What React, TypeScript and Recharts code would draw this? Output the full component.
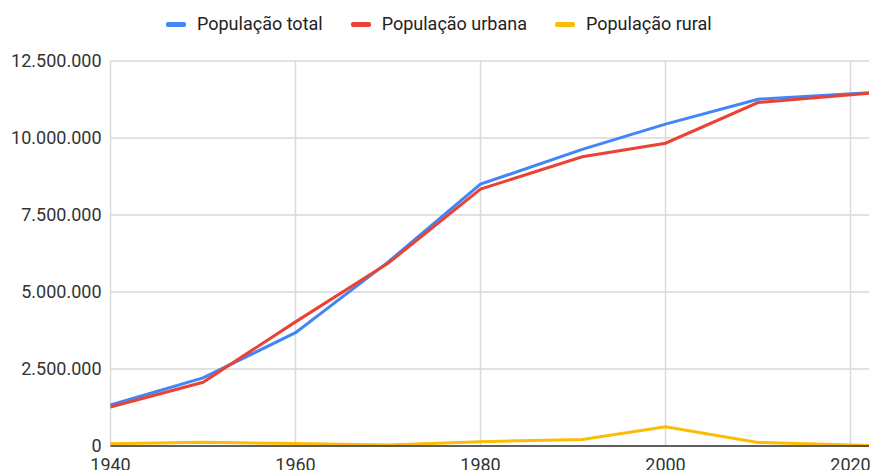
import React from "react";
import { LineChart, Line, XAxis, YAxis, CartesianGrid } from "recharts";

const years = [1940, 1950, 1960, 1970, 1980, 1991, 2000, 2010, 2022];
const total = [1330000, 2210000, 3680000, 5970000, 8500000, 9630000, 10450000, 11260000, 11470000];
const urbana = [1265000, 2070000, 4030000, 5930000, 8340000, 9390000, 9830000, 11150000, 11450000];
const rural = [70000, 125000, 80000, 30000, 140000, 215000, 625000, 115000, 15000];
const xTicks = [1940, 1960, 1980, 2000, 2020];
const yTicks = [0, 2500000, 5000000, 7500000, 10000000, 12500000];
const seriesNames = ["População total", "População urbana", "População rural"];
const seriesKeys = ["total", "urbana", "rural"];
const colors = ["#4285F4", "#EA4335", "#FBBC04"];

const data = years.map((y, i) => ({ year: y, total: total[i], urbana: urbana[i], rural: rural[i] }));

const fmt = (v: number) => v.toLocaleString("de-DE");
const FONT = "Roboto, 'Liberation Sans', Arial, sans-serif";

export default function App() {
  return (
    <div style={{ position: "absolute", left: 0, top: 0, width: 872, height: 470, background: "#fff", fontFamily: FONT }}>
      <div style={{ position: "absolute", left: 166, top: 15, display: "flex", alignItems: "center", fontSize: 18, lineHeight: "18px", color: "#222" }}>
        {seriesNames.map((n, i) => (
          <div key={n} style={{ display: "flex", alignItems: "center", marginRight: 28 }}>
            <div style={{ width: 20, height: 5, borderRadius: 2, background: colors[i], marginRight: 11 }} />
            <span>{n}</span>
          </div>
        ))}
      </div>
      <LineChart width={872} height={470} data={data} margin={{ top: 61, right: 3, bottom: 0, left: 0 }}>
        <CartesianGrid stroke="#d9d9d9" strokeWidth={1.5} vertical horizontal verticalValues={xTicks} />
        <XAxis
          dataKey="year"
          type="number"
          domain={[1940, 2022]}
          ticks={xTicks}
          height={24}
          tickLine={false}
          tickSize={0}
          tickMargin={12}
          axisLine={{ stroke: "#333", strokeWidth: 1.5 }}
          tick={{ fill: "#333", fontSize: 18, fontFamily: FONT }}
          interval={0}
        />
        <YAxis
          type="number"
          domain={[0, 12500000]}
          ticks={yTicks}
          width={110.5}
          tickLine={false}
          axisLine={false}
          tickSize={0}
          tickMargin={9}
          tickFormatter={fmt}
          tick={{ fill: "#333", fontSize: 18, fontFamily: FONT }}
          interval={0}
        />
        {seriesKeys.map((k, i) => (
          <Line
            key={k}
            type="linear"
            dataKey={k}
            name={seriesNames[i]}
            stroke={colors[i]}
            strokeWidth={3}
            dot={false}
            activeDot={false}
            isAnimationActive={false}
          />
        ))}
      </LineChart>
    </div>
  );
}
